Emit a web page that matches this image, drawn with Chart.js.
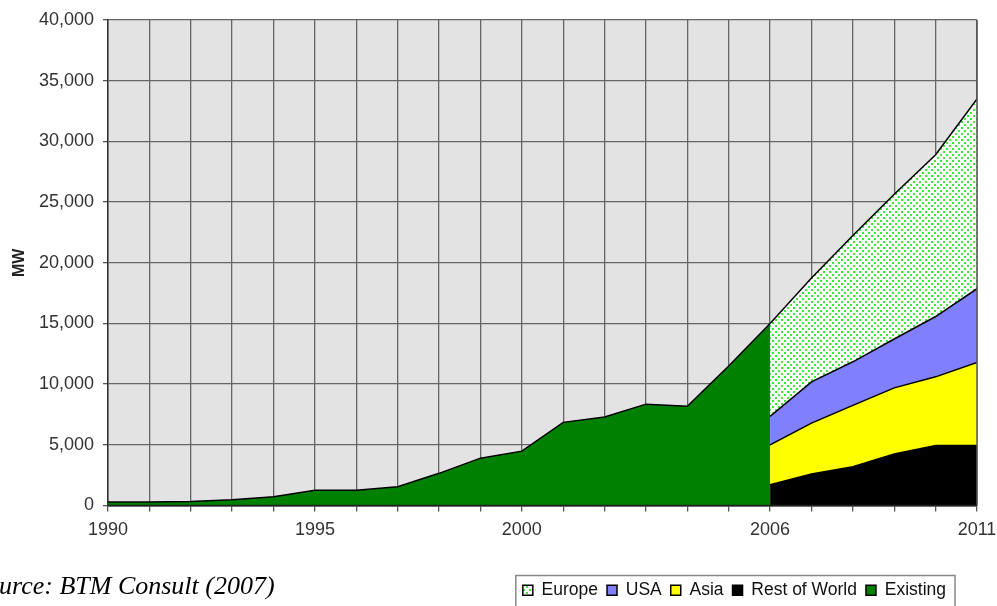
<!DOCTYPE html>
<html>
<head>
<meta charset="utf-8">
<script src="https://cdn.jsdelivr.net/npm/chart.js@4.4.0/dist/chart.umd.min.js"></script>
<style>
  html, body { margin: 0; padding: 0; background: #fff; overflow: hidden; }
  #wrap { position: relative; width: 997px; height: 606px; }
  #source {
    position: absolute; left: -27px; top: 571px; line-height: 26px;
    font: italic 26px "Liberation Serif", "Times New Roman", serif;
    color: #000; white-space: nowrap;
  }
</style>
</head>
<body>
<div id="wrap">
  <canvas id="chart" width="997" height="606"></canvas>
  <div id="source">Source: BTM Consult (2007)</div>
</div>
<script>
// installed capacity per year (MW)
const histYears = [1990, 1991, 1992, 1993, 1994, 1995, 1996, 1997, 1998, 1999, 2000, 2001, 2002, 2003, 2004, 2005, 2006];
const existing = [280, 280, 330, 480, 730, 1250, 1250, 1550, 2650, 3900, 4480, 6850, 7300, 8350, 8170, 11500, 15000];

// forecast by region (stacked)
const forecastYears = [2006, 2007, 2008, 2009, 2010, 2011];
const restOfWorld = [1710, 2590, 3200, 4250, 4940, 4940];
const asia = [3280, 4200, 5050, 5440, 5660, 6850];
const usa = [2350, 3400, 3590, 4030, 4970, 6070];
const europe = [7660, 8550, 10410, 11930, 13330, 15640];

const labelYears = [1990, 1995, 2000, 2006, 2011];
const yMax = 40000;
const yStep = 5000;

const FONT = 'Liberation Sans, Arial, sans-serif';

function points(xs, ys) {
  return xs.map((x, i) => ({ x: x, y: ys[i] }));
}

function dotPattern() {
  const c = document.createElement('canvas');
  c.width = 6; c.height = 6;
  const g = c.getContext('2d');
  g.fillStyle = '#ffffff';
  g.fillRect(0, 0, 6, 6);
  g.fillStyle = '#3aec3a';
  g.fillRect(1, 1, 2, 2);
  g.fillRect(4, 4, 2, 2);
  return g.createPattern(c, 'repeat');
}

const plotFrame = {
  id: 'plotFrame',
  afterLayout(chart) {
    // legend sits under the right part of the plot, a bit lower
    const lg = chart.legend;
    lg.right = chart.chartArea.right - 22;
    lg.top += 3;
    lg.bottom += 3;
  },
  beforeDraw(chart) {
    const a = chart.chartArea;
    const ctx = chart.ctx;
    ctx.save();
    ctx.fillStyle = '#e3e3e3';
    ctx.fillRect(a.left, a.top, a.right - a.left, a.bottom - a.top);
    ctx.restore();
  },
  afterDatasetsDraw(chart) {
    const a = chart.chartArea;
    const ctx = chart.ctx;
    ctx.save();
    ctx.lineWidth = 1.5;
    ctx.strokeStyle = '#555';
    ctx.beginPath();
    ctx.moveTo(a.right, a.top);
    ctx.lineTo(a.right, a.bottom);
    ctx.stroke();
    ctx.strokeStyle = '#222';
    ctx.beginPath();
    ctx.moveTo(a.left, a.bottom);
    ctx.lineTo(a.right, a.bottom);
    ctx.stroke();
    ctx.restore();
  },
  afterDraw(chart) {
    const boxes = chart.legend.legendHitBoxes;
    if (!boxes || !boxes.length) return;
    const left = Math.min(...boxes.map(b => b.left)) - 7;
    const top = boxes[0].top - 6;
    const ctx = chart.ctx;
    ctx.save();
    ctx.strokeStyle = '#888';
    ctx.lineWidth = 1.5;
    ctx.strokeRect(left, top, chart.legend.right - left, 60);
    ctx.restore();
  }
};

const common = { borderColor: '#000', borderWidth: 1.5, pointRadius: 0, tension: 0 };

new Chart(document.getElementById('chart'), {
  type: 'line',
  data: {
    datasets: [
      { ...common, label: 'Existing', data: points(histYears, existing), backgroundColor: '#008000', fill: 'origin', stack: 'existing' },
      { ...common, label: 'Rest of World', data: points(forecastYears, restOfWorld), backgroundColor: '#000000', fill: 'origin', stack: 'forecast' },
      { ...common, label: 'Asia', data: points(forecastYears, asia), backgroundColor: '#ffff00', fill: '-1', stack: 'forecast' },
      { ...common, label: 'USA', data: points(forecastYears, usa), backgroundColor: '#8080ff', fill: '-1', stack: 'forecast' },
      { ...common, label: 'Europe', data: points(forecastYears, europe), backgroundColor: dotPattern(), fill: '-1', stack: 'forecast' }
    ]
  },
  options: {
    responsive: false,
    animation: false,
    events: [],
    layout: { padding: { top: 20, right: 20, left: 0, bottom: 0 } },
    plugins: {
      tooltip: { enabled: false },
      legend: {
        position: 'bottom',
        align: 'end',
        reverse: true,
        labels: {
          boxWidth: 10,
          boxHeight: 10,
          padding: 9,
          color: '#111',
          font: { family: FONT, size: 17.5 }
        }
      }
    },
    scales: {
      x: {
        type: 'linear',
        min: 1990,
        max: 2011,
        afterFit(scale) {
          scale.height = 64;
          scale.paddingRight = 0;
          scale.paddingLeft = 0;
        },
        ticks: {
          stepSize: 1,
          autoSkip: false,
          maxRotation: 0,
          padding: 8,
          color: '#333',
          font: { family: FONT, size: 18 },
          callback: v => labelYears.includes(v) ? String(v) : ''
        },
        grid: { color: '#666', lineWidth: 1.3, tickLength: 6, tickColor: '#555', tickWidth: 1.3 },
        border: { color: '#333', width: 1.5 }
      },
      y: {
        stacked: true,
        min: 0,
        max: yMax,
        afterFit(scale) { scale.width = 108; },
        ticks: {
          stepSize: yStep,
          padding: 9,
          color: '#333',
          font: { family: FONT, size: 18 },
          callback: v => v.toLocaleString('en-US')
        },
        grid: { color: '#666', lineWidth: 1.3, tickLength: 5, tickColor: '#555', tickWidth: 1.3 },
        border: { color: '#333', width: 1.5 },
        title: {
          display: true,
          text: 'MW',
          color: '#222',
          padding: { top: 10, bottom: 0 },
          font: { family: FONT, size: 16, weight: 'bold' }
        }
      }
    }
  },
  plugins: [plotFrame]
});
</script>
</body>
</html>
